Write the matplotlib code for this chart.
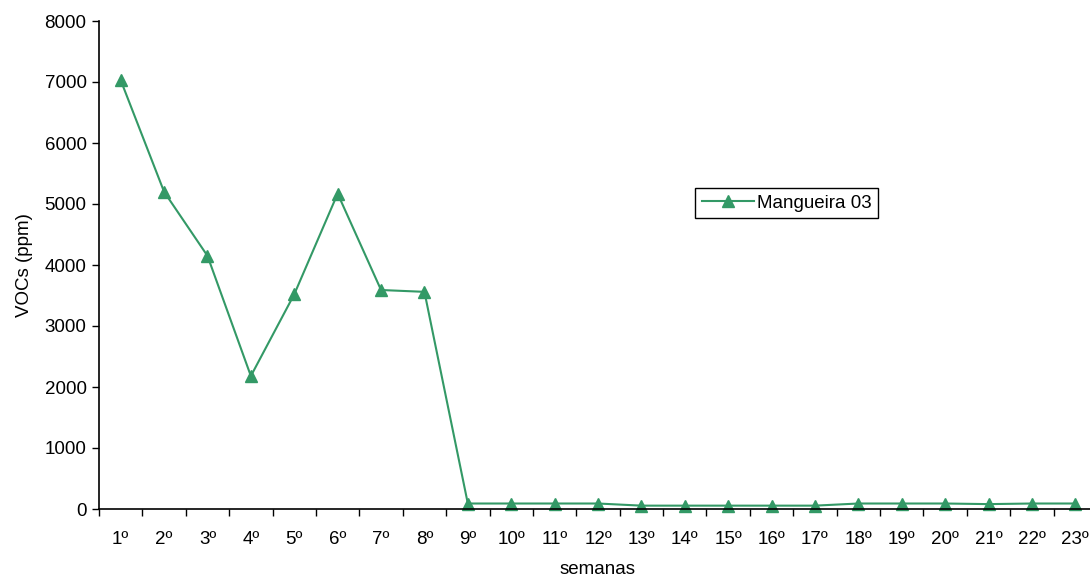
import numpy as np
import matplotlib.pyplot as plt
from matplotlib.ticker import FixedLocator, NullFormatter, FixedFormatter

plt.rcParams['font.family'] = ['Liberation Sans', 'DejaVu Sans']

# weekly VOC readings
semanas = [f'{i}º' for i in range(1, 24)]
vocs = [7030, 5200, 4150, 2180, 3520, 5170, 3590, 3560,
        90, 90, 90, 90, 55, 55, 55, 55, 55, 90, 90, 90, 80, 90, 90]
serie = 'Mangueira 03'
cor = '#339966'
fs = 13.5

fig = plt.figure(figsize=(10.9, 5.8), dpi=100)
# the plot area runs slightly past the right edge of the figure
ax = fig.add_axes([99 / 1090, 1 - 509 / 580, (1097 - 99) / 1090, (509 - 21) / 580])

x = np.arange(1, len(vocs) + 1)
ax.plot(x, vocs, color=cor, lw=1.5, marker='^', markersize=9, label=serie, clip_on=False)

ax.set_xlim(0.5, len(vocs) + 0.5)
ax.set_ylim(0, 8000)
ax.set_yticks(np.arange(0, 8001, 1000))

# tick marks between categories, labels centred on them
ax.xaxis.set_major_locator(FixedLocator(np.arange(0.5, len(vocs) + 1, 1)))
ax.xaxis.set_major_formatter(NullFormatter())
ax.xaxis.set_minor_locator(FixedLocator(x))
ax.xaxis.set_minor_formatter(FixedFormatter(semanas))
ax.tick_params(axis='x', which='major', length=5, width=1, direction='out')
ax.tick_params(axis='x', which='minor', length=0, pad=16, labelsize=fs)
ax.tick_params(axis='y', length=5, width=1, direction='out', labelsize=fs, pad=4)

for s in ['top', 'right']:
    ax.spines[s].set_visible(False)
for s in ['left', 'bottom']:
    ax.spines[s].set_linewidth(1.2)

ax.set_ylabel('VOCs (ppm)', fontsize=fs, labelpad=8)
ax.set_xlabel('semanas', fontsize=fs, labelpad=9)

leg = ax.legend(loc='upper left', bbox_to_anchor=(695 / 1090, 1 - 188 / 580),
                bbox_transform=fig.transFigure, fancybox=False, framealpha=1,
                edgecolor='black', fontsize=fs, handlelength=2.8, handletextpad=0.15,
                borderpad=0.35, borderaxespad=0)
leg.get_frame().set_linewidth(1.0)

fig.savefig('out.png', dpi=100)
